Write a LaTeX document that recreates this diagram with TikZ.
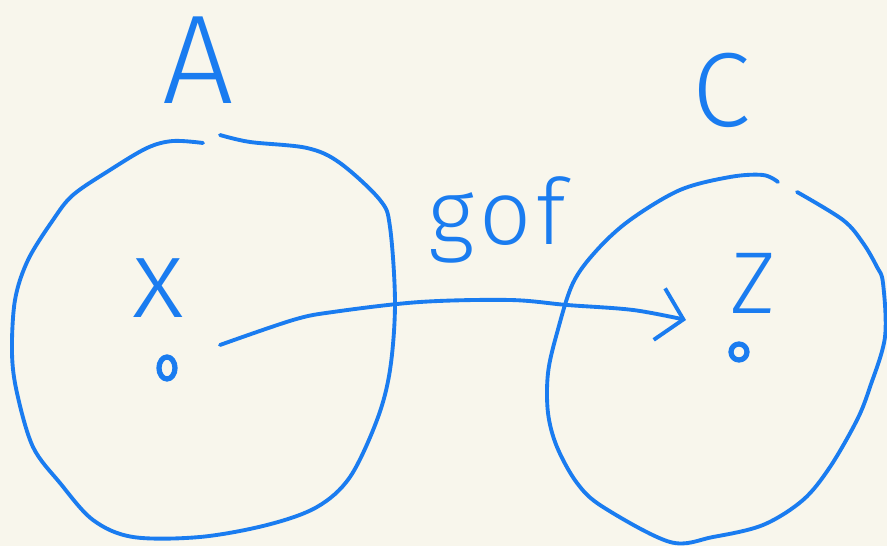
\documentclass[tikz,border=0pt]{standalone}
\usepackage{fontspec}
\usetikzlibrary{arrows.meta}

\newfontfamily\handfont{Fira Sans Light}
\definecolor{paper}{HTML}{F8F6EC}
\definecolor{pen}{HTML}{1A7CF0}

\begin{document}
\begin{tikzpicture}[x=0.02cm, y=-0.02cm, hand/.style={draw=pen, line width=2.2pt, line cap=round, line join=round},
    lbl/.style={text=pen, font=\handfont, inner sep=0pt}]

    \fill[paper] (0,0) rectangle (887,546);
    \useasboundingbox (0,0) rectangle (887,546);

    % set A
    \draw[hand] plot[smooth, tension=0.55] coordinates {(220,135) (250,142) (307,148) (340,163) (380,200) (390,227) (395,303) (390,370) (377,420) (350,477) (317,507) (267,525) (200,537) (133,537) (93,520) (60,483) (33,447) (17,393) (12,353) (15,300) (28,260) (53,220) (73,195) (110,170) (147,148) (173,141) (203,143)};

    % set C
    \draw[hand] plot[smooth, tension=0.55] coordinates {(797,192) (843,220) (863,243) (877,267) (883,283) (885,337) (870,387) (857,420) (830,467) (803,500) (763,525) (713,537) (670,542) (603,507) (577,483) (557,447) (548,413) (548,373) (557,333) (573,283) (597,250) (630,220) (680,190) (730,177) (763,175) (778,182)};

    \node[lbl, font=\handfont\fontsize{72}{74}\selectfont] (A) at (198,60) {A};
    \node[lbl, font=\handfont\fontsize{60}{62}\selectfont] (C) at (721,90) {C};
    \node[lbl, font=\handfont\fontsize{52}{54}\selectfont] (gof) at (497,220) {g\kern3pt o\kern3pt f};
    \node[lbl, font=\handfont\fontsize{64}{66}\selectfont] (x) at (158,288) {x};
    \node[lbl, font=\handfont\fontsize{50}{52}\selectfont] (Z) at (753,283) {Z};

    \draw[hand, line width=3pt] (167,368) ellipse (8 and 11);
    \draw[hand, line width=3pt] (739,352) ellipse (8 and 8);

    \coordinate (xtail) at (220,345);
    \coordinate (ztip) at (686,320);

    % g o f
    \draw[hand, -{Straight Barb[length=14pt, width=30pt, line width=2.2pt]}] plot[smooth, tension=0.55] coordinates {(xtail) (293,320) (333,312) (420,302) (510,300) (567,305) (633,310) (ztip)};

\end{tikzpicture}
\end{document}
